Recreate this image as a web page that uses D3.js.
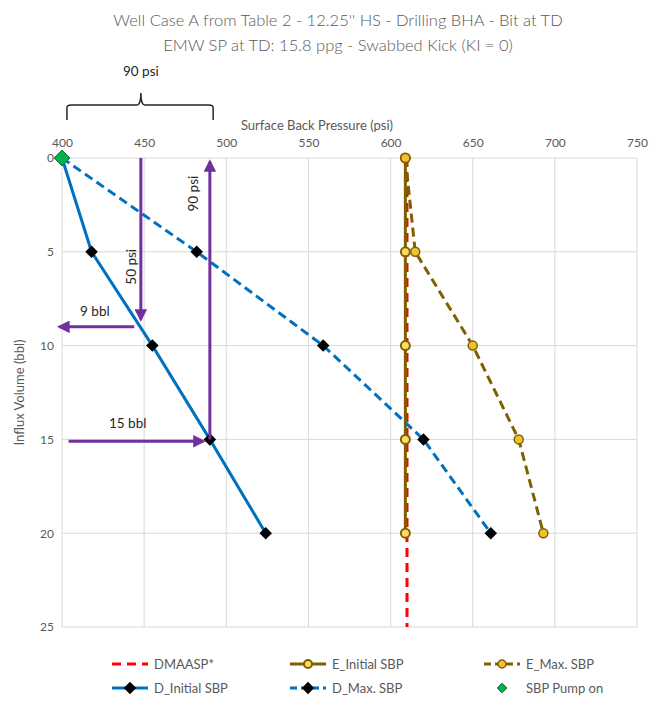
<!DOCTYPE html>
<html>
<head>
<meta charset="utf-8">
<script src="https://cdn.jsdelivr.net/npm/d3@7"></script>
<style>
  body { margin: 0; background: #fff; }
  text { font-family: Lato, "Open Sans", sans-serif; }
</style>
</head>
<body>
<svg id="chart"></svg>
<script>
// Influx volume (bbl) for every series point
const volumes = [0, 5, 10, 15, 20];
const dInitial = [400, 418, 455, 490, 524];
const dMax = [400, 482, 559, 620, 661];
const eInitial = [609, 609, 609, 609, 609];
const eMax = [609, 615, 650, 678, 693];
const dmaaspPsi = [610, 610];
const dmaaspVol = [0, 25];
const pumpOn = [{ psi: 400, vol: 0 }];

const xTicks = [400, 450, 500, 550, 600, 650, 700, 750];
const yTicks = [0, 5, 10, 15, 20, 25];

// purple annotation arrows: [psi, vol] start -> end
const arrows = [
  { from: [448, 0], to: [448, 8.6] },
  { from: [444, 9.0], to: [398.5, 9.0] },
  { from: [490, 15], to: [490, 0.2] },
  { from: [404, 15.1], to: [486, 15.1] }
];

const width = 649, height = 709;
const margin = { top: 158, right: 12, bottom: 82, left: 62 };
const innerW = width - margin.left - margin.right;
const innerH = height - margin.top - margin.bottom;

const svg = d3.select("#chart").attr("width", width).attr("height", height);

const x = d3.scaleLinear().domain([400, 750]).range([0, innerW]);
const y = d3.scaleLinear().domain([0, 25]).range([0, innerH]);

const g = svg.append("g").attr("transform", `translate(${margin.left},${margin.top})`);

// titles
svg.append("text").attr("x", 338).attr("y", 26).attr("text-anchor", "middle")
  .style("font-size", "16.5px").style("fill", "#595959").style("font-weight", 300)
  .text("Well Case A from Table 2 - 12.25'' HS - Drilling BHA - Bit at TD");
svg.append("text").attr("x", 338).attr("y", 51).attr("text-anchor", "middle")
  .style("font-size", "16.5px").style("fill", "#595959").style("font-weight", 300)
  .text("EMW SP at TD: 15.8 ppg - Swabbed Kick (KI = 0)");

// gridlines
g.append("g").selectAll("line").data(xTicks).join("line")
  .attr("x1", d => x(d)).attr("x2", d => x(d)).attr("y1", 0).attr("y2", innerH)
  .attr("stroke", "#d9d9d9").attr("stroke-width", 1);
g.append("g").selectAll("line").data(yTicks).join("line")
  .attr("x1", 0).attr("x2", innerW).attr("y1", d => y(d)).attr("y2", d => y(d))
  .attr("stroke", "#d9d9d9").attr("stroke-width", 1);

// axes
const xAxis = g.append("g").call(d3.axisTop(x).tickValues(xTicks).tickSize(0).tickPadding(11));
const yAxis = g.append("g").call(d3.axisLeft(y).tickValues(yTicks).tickSize(0).tickPadding(8));
[xAxis, yAxis].forEach(a => {
  a.select(".domain").remove();
  a.selectAll("text").style("font-size", "12px").style("fill", "#595959")
    .style("font-family", "Lato, 'Open Sans', sans-serif");
});

svg.append("text").attr("x", 317).attr("y", 130).attr("text-anchor", "middle")
  .style("font-size", "13px").style("fill", "#595959").text("Surface Back Pressure (psi)");
svg.append("text").attr("transform", `translate(24,${margin.top + innerH / 2}) rotate(-90)`)
  .attr("text-anchor", "middle").style("font-size", "13px").style("fill", "#595959")
  .text("Influx Volume (bbl)");

const line = d3.line().x(d => x(d[0])).y(d => y(d[1]));
const pts = arr => arr.map((v, i) => [v, volumes[i]]);

const brown = "#7f6000", blue = "#0070c0";

// series lines
g.append("path").datum(d3.zip(dmaaspPsi, dmaaspVol)).attr("d", line)
  .attr("fill", "none").attr("stroke", "#ff0000").attr("stroke-width", 3).attr("stroke-dasharray", "9,6");
g.append("path").datum(pts(eInitial)).attr("d", line)
  .attr("fill", "none").attr("stroke", brown).attr("stroke-width", 3);
g.append("path").datum(pts(eMax)).attr("d", line)
  .attr("fill", "none").attr("stroke", brown).attr("stroke-width", 3).attr("stroke-dasharray", "9,5");
g.append("path").datum(pts(dInitial)).attr("d", line)
  .attr("fill", "none").attr("stroke", blue).attr("stroke-width", 3);
g.append("path").datum(pts(dMax)).attr("d", line)
  .attr("fill", "none").attr("stroke", blue).attr("stroke-width", 3).attr("stroke-dasharray", "9,5");

// markers
const diamond = d3.symbol().type(d3.symbolDiamond2).size(100);
g.append("g").selectAll("circle").data(pts(eInitial)).join("circle")
  .attr("cx", d => x(d[0])).attr("cy", d => y(d[1])).attr("r", 4.5)
  .attr("fill", "#ffd966").attr("stroke", brown).attr("stroke-width", 2);
g.append("g").selectAll("circle").data(pts(eMax)).join("circle")
  .attr("cx", d => x(d[0])).attr("cy", d => y(d[1])).attr("r", 4.5)
  .attr("fill", "#f0c030").attr("stroke", brown).attr("stroke-width", 1.5);
[dInitial, dMax].forEach(s => {
  g.append("g").selectAll("path").data(pts(s).slice(1)).join("path")
    .attr("d", diamond).attr("transform", d => `translate(${x(d[0])},${y(d[1])})`)
    .attr("fill", "#000");
});
g.append("g").selectAll("path").data(pumpOn).join("path")
  .attr("d", d3.symbol().type(d3.symbolDiamond2).size(160))
  .attr("transform", d => `translate(${x(d.psi)},${y(d.vol)})`)
  .attr("fill", "#00b050").attr("stroke", "#1e6b35").attr("stroke-width", 1);

// annotation arrows
const purple = "#7030a0";
svg.append("defs").append("marker").attr("id", "head")
  .attr("viewBox", "0 0 10 10").attr("refX", 8).attr("refY", 5)
  .attr("markerWidth", 4.2).attr("markerHeight", 4.2).attr("orient", "auto")
  .append("path").attr("d", "M0,0L10,5L0,10Z").attr("fill", purple);
g.append("g").selectAll("line").data(arrows).join("line")
  .attr("x1", d => x(d.from[0])).attr("y1", d => y(d.from[1]))
  .attr("x2", d => x(d.to[0])).attr("y2", d => y(d.to[1]))
  .attr("stroke", purple).attr("stroke-width", 3).attr("marker-end", "url(#head)");

const note = (t, px, vol, rot) => g.append("text")
  .attr("transform", `translate(${x(px)},${y(vol)})${rot ? " rotate(-90)" : ""}`)
  .attr("text-anchor", "middle").style("font-size", "13.5px").style("fill", "#262626").text(t);
note("50 psi", 445, 5.8, true);
note("90 psi", 483, 1.9, true);
note("9 bbl", 420, 8.4, false);
note("15 bbl", 440, 14.4, false);

// bracket over 400-490 psi
const bL = x(403), bR = x(492), bM = x(448);
const bk = d3.path();
bk.moveTo(bL, -38); bk.lineTo(bL, -50); bk.quadraticCurveTo(bL, -53, bL + 4, -53);
bk.lineTo(bM - 4, -53); bk.quadraticCurveTo(bM, -53, bM, -65);
bk.quadraticCurveTo(bM, -53, bM + 4, -53); bk.lineTo(bR - 4, -53);
bk.quadraticCurveTo(bR, -53, bR, -50); bk.lineTo(bR, -38);
g.append("path").attr("d", bk.toString()).attr("fill", "none").attr("stroke", "#262626").attr("stroke-width", 1.5);
g.append("text").attr("x", bM).attr("y", -82).attr("text-anchor", "middle")
  .style("font-size", "13.5px").style("fill", "#262626").text("90 psi");

// legend
const legendItems = [
  { name: "DMAASP*", color: "#ff0000", dash: "9,6", marker: null, col: 0, row: 0 },
  { name: "E_Initial SBP", color: brown, dash: null, marker: "ci", col: 1, row: 0 },
  { name: "E_Max. SBP", color: brown, dash: "7,4", marker: "cm", col: 2, row: 0 },
  { name: "D_Initial SBP", color: blue, dash: null, marker: "d", col: 0, row: 1 },
  { name: "D_Max. SBP", color: blue, dash: "7,4", marker: "d", col: 1, row: 1 },
  { name: "SBP Pump on", color: null, dash: null, marker: "p", col: 2, row: 1 }
];
const colX = [112, 290, 484];
const rowY = [664, 688];
const lg = svg.append("g").selectAll("g").data(legendItems).join("g")
  .attr("transform", d => `translate(${colX[d.col]},${rowY[d.row]})`);
lg.filter(d => d.color).append("line").attr("x1", 0).attr("x2", 36).attr("y1", 0).attr("y2", 0)
  .attr("stroke", d => d.color).attr("stroke-width", 3).attr("stroke-dasharray", d => d.dash);
lg.filter(d => d.marker === "ci").append("circle").attr("cx", 18).attr("r", 4)
  .attr("fill", "#ffd966").attr("stroke", brown).attr("stroke-width", 2);
lg.filter(d => d.marker === "cm").append("circle").attr("cx", 18).attr("r", 4)
  .attr("fill", "#f0c030").attr("stroke", brown).attr("stroke-width", 1.5);
lg.filter(d => d.marker === "d").append("path").attr("d", diamond)
  .attr("transform", "translate(18,0)").attr("fill", "#000");
lg.filter(d => d.marker === "p").append("path")
  .attr("d", d3.symbol().type(d3.symbolDiamond2).size(60))
  .attr("transform", "translate(18,0)").attr("fill", "#00b050").attr("stroke", "#1e6b35");
lg.append("text").attr("x", 42).attr("y", 4.5)
  .style("font-size", "13px").style("fill", "#595959").text(d => d.name);
</script>
</body>
</html>
